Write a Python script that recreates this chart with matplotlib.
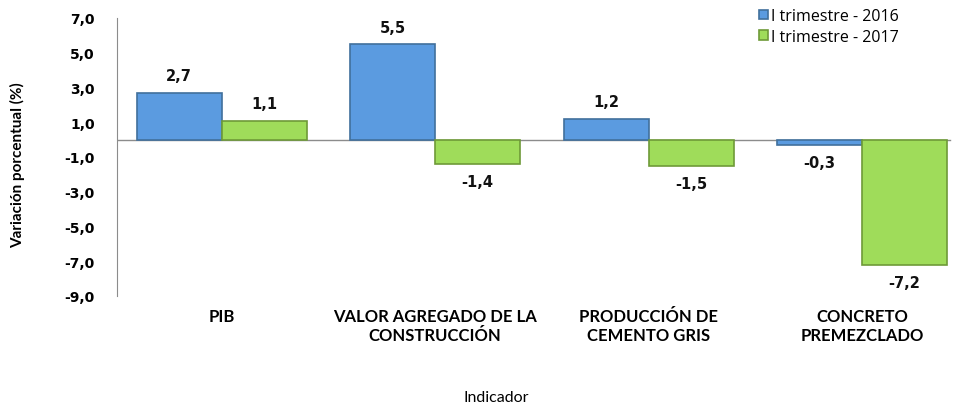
#!/usr/bin/env python3

# plot.py
#
# Variacion porcentual por indicador, I trimestre 2016 vs 2017
import matplotlib
matplotlib.use('Agg')
import matplotlib.pyplot as plt
import matplotlib.transforms as transforms
import numpy as np

CATEGORIES = ['PIB', 'VALOR AGREGADO DE LA\nCONSTRUCCIÓN',
              'PRODUCCIÓN DE\nCEMENTO GRIS', 'CONCRETO\nPREMEZCLADO']
VALUES_2016 = [2.7, 5.5, 1.2, -0.3]
VALUES_2017 = [1.1, -1.4, -1.5, -7.2]
SERIES = ['I trimestre - 2016', 'I trimestre - 2017']
YTICKS = [7, 5, 3, 1, -1, -3, -5, -7, -9]

BLUE, BLUE_EDGE = '#5b9be0', '#41709c'
GREEN, GREEN_EDGE = '#9fdc5a', '#6e9a38'


def label(value):
    return '{:.1f}'.format(value).replace('.', ',')


def plot():
    fig = plt.figure(figsize=(9.54, 4.06), dpi=100)
    ax = fig.add_axes([117 / 954, 109 / 406, 1 - 117 / 954, 278 / 406])

    x = np.arange(len(CATEGORIES))
    width = 0.398
    bars1 = ax.bar(x - width / 2, VALUES_2016, width, color=BLUE,
                   edgecolor=BLUE_EDGE, linewidth=1.2, label=SERIES[0], zorder=3)
    bars2 = ax.bar(x + width / 2, VALUES_2017, width, color=GREEN,
                   edgecolor=GREEN_EDGE, linewidth=1.2, label=SERIES[1], zorder=3)

    # Value labels above positive bars, below negative bars
    for bars, values in ((bars1, VALUES_2016), (bars2, VALUES_2017)):
        for bar, value in zip(bars, values):
            offset = 17 if value >= 0 else -18
            ax.annotate(label(value), (bar.get_x() + bar.get_width() / 2, value),
                        xytext=(0, offset), textcoords='offset pixels',
                        ha='center', va='center', fontsize=10.5, fontweight='bold',
                        family='DejaVu Sans', color='#111111')

    ax.axhline(0, color='#8c8c8c', linewidth=1.0, xmin=0, xmax=0.995, zorder=2)

    ax.set_ylim(-9, 7)
    ax.set_xlim(-0.49, 3.43)
    ax.set_yticks(YTICKS)
    ax.set_yticklabels([label(v) for v in YTICKS], fontsize=10, fontweight='bold',
                       family='DejaVu Sans')
    ax.tick_params(axis='y', length=0, pad=16)
    ax.set_xticks([])

    for side in ('top', 'right', 'bottom'):
        ax.spines[side].set_visible(False)
    ax.spines['left'].set_color('#8c8c8c')

    # Category labels under the plot
    trans = transforms.blended_transform_factory(ax.transData, fig.transFigure)
    for pos, name in zip(x, CATEGORIES):
        ax.text(pos, 1 - 309 / 406, name, transform=trans, ha='center', va='top',
                fontsize=12, fontweight='bold', family='Lato', linespacing=1.25)

    fig.text(496 / 954, 1 - 398 / 406, 'Indicador', ha='center', va='center',
             fontsize=11.5, family='Lato')
    fig.text(18 / 954, 1 - 165 / 406, 'Variación porcentual (%)', rotation=90,
             ha='center', va='center', fontsize=11, fontweight='bold', family='Lato')

    ax.legend(loc='upper left', bbox_to_anchor=(748 / 954, 1.005),
              bbox_transform=fig.transFigure, frameon=False,
              prop={'family': 'Open Sans', 'size': 11.5}, handlelength=0.55,
              handleheight=0.55, handletextpad=0.2, labelspacing=0.3,
              borderpad=0.2)

    plt.savefig('out.png', dpi=100)


if __name__ == '__main__':
    plot()
